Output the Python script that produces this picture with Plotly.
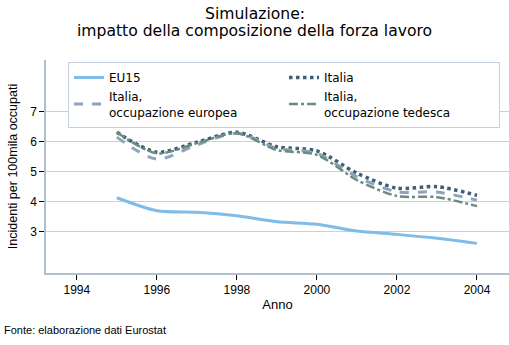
import plotly.graph_objects as go

years = [1995, 1996, 1997, 1998, 1999, 2000, 2001, 2002, 2003, 2004]
eu15 = [4.14, 3.71, 3.66, 3.54, 3.34, 3.26, 3.03, 2.92, 2.79, 2.62]
italia = [6.32, 5.66, 5.99, 6.32, 5.84, 5.70, 4.96, 4.46, 4.51, 4.22]
italia_eu = [6.16, 5.43, 5.90, 6.29, 5.79, 5.62, 4.84, 4.34, 4.33, 4.06]
italia_de = [6.32, 5.62, 5.96, 6.29, 5.73, 5.57, 4.73, 4.20, 4.16, 3.86]

names = ["EU15", "Italia", "Italia,<br>occupazione europea", "Italia,<br>occupazione tedesca"]
series = [eu15, italia, italia_eu, italia_de]
colors = ["#7fbce8", "#3d5f7b", "#8fa3ba", "#6a8b7d"]
dashes = ["solid", "dot", "dash", "dashdot"]
widths = [3, 3.5, 3, 2.5]

fig = go.Figure()
for n, s, c, d, w in zip(names, series, colors, dashes, widths):
    fig.add_trace(go.Scatter(x=years, y=s, mode="lines", name=n,
                             line=dict(color=c, dash=d, width=w, shape="spline", smoothing=0.8)))

font = "Liberation Sans, Arial, sans-serif"
wide = "DejaVu Sans, Verdana, sans-serif"
PW, PH, ML, MT = 463, 213, 46, 60
def py(p):
    return (MT + PH - p) / PH
def px(p):
    return (p - ML) / PW

fig.update_layout(
    width=509, height=345,
    margin=dict(l=ML, r=0, t=MT, b=72),
    paper_bgcolor="white", plot_bgcolor="white",
    font=dict(family=font, size=12, color="black"),
    showlegend=True,
    legend=dict(orientation="h", x=px(68), xanchor="left", y=py(62), yanchor="top",
                entrywidth=170, entrywidthmode="pixels",
                bordercolor="#c4d0dc", borderwidth=1, bgcolor="white",
                font=dict(size=12, family=wide), tracegroupgap=0),
    xaxis=dict(range=[1993.23, 2004.8], tickvals=[1994, 1996, 1998, 2000, 2002, 2004],
               showgrid=False, zeroline=False, showline=True, linecolor="#b0c0d0", linewidth=1.5,
               ticks="outside", ticklen=5, tickcolor="black",
               title=dict(text="Anno", font=dict(size=13), standoff=4)),
    yaxis=dict(range=[1.633, 8.73], tickvals=[3, 4, 5, 6, 7],
               showgrid=True, gridcolor="#c4d2de", gridwidth=1, zeroline=False,
               showline=True, linecolor="#b0c0d0", linewidth=1.5,
               ticks="outside", ticklen=5, tickcolor="black",
               title=dict(text="Incidenti per 100mila occupati", font=dict(size=12.5), standoff=10)),
)
fig.add_annotation(text="Simulazione:", xref="paper", yref="paper",
                   x=px(254.5), y=py(14.5), xanchor="center", yanchor="middle", borderpad=0,
                   showarrow=False, font=dict(size=15.6, family=wide))
fig.add_annotation(text="impatto della composizione della forza lavoro", xref="paper", yref="paper",
                   x=px(254.5), y=py(31.5), xanchor="center", yanchor="middle", borderpad=0,
                   showarrow=False, font=dict(size=15.6, family=wide))
fig.add_annotation(text="Fonte: elaborazione dati Eurostat", xref="paper", yref="paper",
                   x=px(2), y=py(330), xanchor="left", yanchor="middle",
                   showarrow=False, font=dict(size=11))
fig.write_html("out.html")
